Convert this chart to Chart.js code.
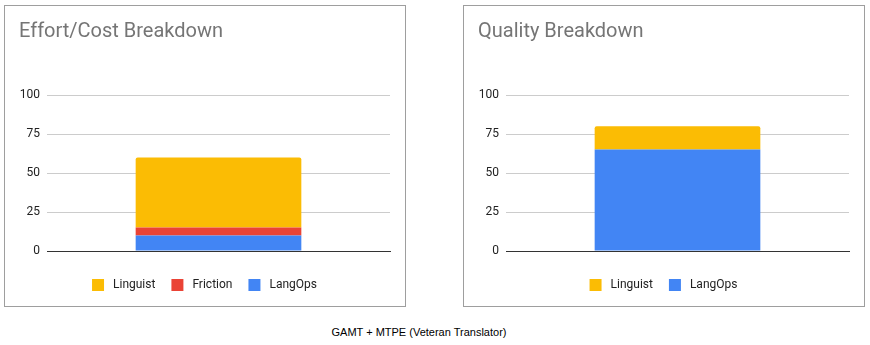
<!DOCTYPE html>
<html>
<head>
<meta charset="utf-8">
<script src="https://cdn.jsdelivr.net/npm/chart.js@4/dist/chart.umd.min.js"></script>
<style>
  html, body { margin: 0; padding: 0; background: #fff; }
  body { width: 870px; height: 345px; position: relative; overflow: hidden; }
  .panel { position: absolute; top: 5px; width: 400px; height: 300px; border: 1px solid #9e9e9e; background: #fff; }
  .panel canvas { display: block; }
  #p1 { left: 4px; }
  #p2 { left: 463px; }
  #caption { position: absolute; left: 0; width: 838px; top: 326px; text-align: center;
             font-family: "Liberation Sans", Arial, sans-serif; font-size: 11px; line-height: 13px; color: #000; }
</style>
</head>
<body>
<div class="panel" id="p1"><canvas id="c1" width="400" height="300"></canvas></div>
<div class="panel" id="p2"><canvas id="c2" width="400" height="300"></canvas></div>
<div id="caption">GAMT + MTPE (Veteran Translator)</div>
<script>
// ---- data ----
const categories = [''];
const effortTitle = 'Effort/Cost Breakdown';
const qualityTitle = 'Quality Breakdown';
const effortLangOps = [10];
const effortFriction = [5];
const effortLinguist = [45];
const qualityLangOps = [65];
const qualityLinguist = [15];
const yTicks = [0, 25, 50, 75, 100];
const captionText = 'GAMT + MTPE (Veteran Translator)';

const COLORS = { Linguist: '#FBBC04', Friction: '#EA4335', LangOps: '#4285F4' };
const FONT = 'Roboto';

function makeChart(id, title, series) {
  const n = series.length;
  const datasets = series.map((s, i) => ({
    label: s.label,
    data: s.data,
    backgroundColor: COLORS[s.label],
    borderWidth: 0,
    borderSkipped: false,
    borderRadius: i === n - 1 ? { topLeft: 2, topRight: 2, bottomLeft: 0, bottomRight: 0 } : 0,
    barPercentage: 0.483,
    categoryPercentage: 1.0
  }));
  return new Chart(document.getElementById(id), {
    type: 'bar',
    data: { labels: categories, datasets },
    options: {
      responsive: false,
      devicePixelRatio: 1,
      animation: false,
      layout: { padding: { left: 14, right: 15, top: 0, bottom: 5 } },
      plugins: {
        tooltip: { enabled: false },
        title: {
          display: true, text: title, align: 'start', color: '#757575',
          font: { family: FONT, size: 20, weight: 'normal', lineHeight: 1.2 },
          padding: { top: 14, bottom: 51 }
        },
        legend: {
          display: true, position: 'bottom', reverse: true,
          labels: {
            boxWidth: 12, boxHeight: 12, padding: 16, color: '#222',
            font: { family: FONT, size: 12 },
            generateLabels: (chart) => {
              const items = Chart.defaults.plugins.legend.labels.generateLabels(chart);
              items.forEach(it => { it.text = ' ' + it.text; });
              return items;
            }
          }
        }
      },
      scales: {
        x: {
          stacked: true,
          z: 1,
          grid: { display: false, drawTicks: false },
          border: { display: true, color: '#333', width: 1 },
          ticks: { display: false },
          afterFit: (s) => { s.height = 12; }
        },
        y: {
          stacked: true,
          min: 0, max: 100,
          afterBuildTicks: (s) => { s.ticks = yTicks.map(v => ({ value: v })); },
          grid: { color: '#ccc', drawTicks: false, lineWidth: 1 },
          border: { display: false },
          ticks: { padding: 7, color: '#222', font: { family: FONT, size: 12 } },
          afterFit: (s) => { s.width = 28; }
        }
      }
    }
  });
}

makeChart('c1', effortTitle, [
  { label: 'LangOps', data: effortLangOps },
  { label: 'Friction', data: effortFriction },
  { label: 'Linguist', data: effortLinguist }
]);
makeChart('c2', qualityTitle, [
  { label: 'LangOps', data: qualityLangOps },
  { label: 'Linguist', data: qualityLinguist }
]);
document.getElementById('caption').textContent = captionText;
</script>
</body>
</html>
